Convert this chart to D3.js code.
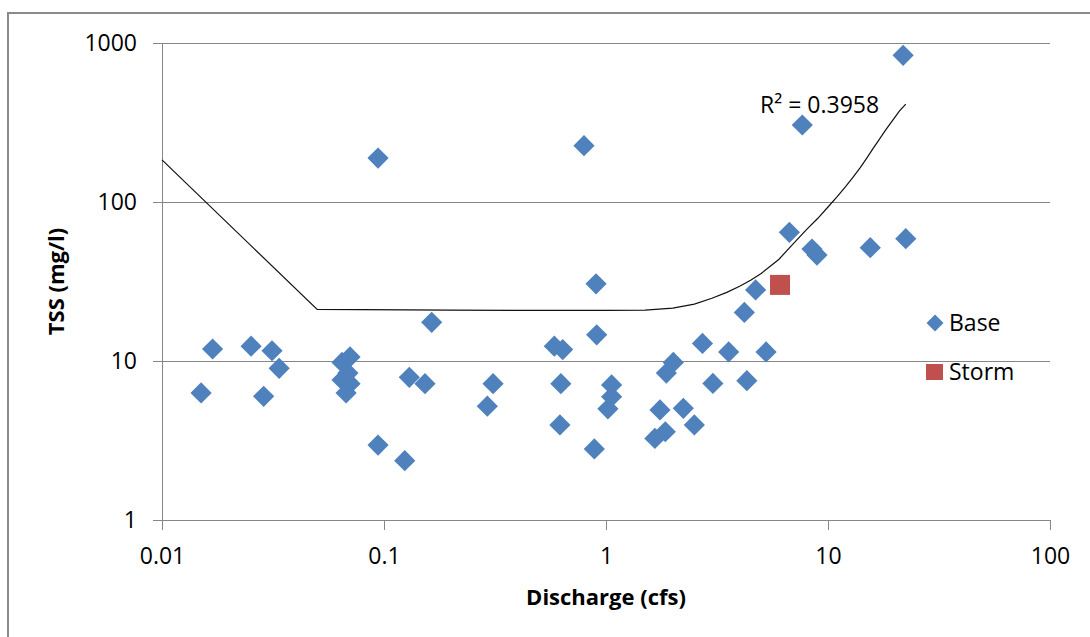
<!DOCTYPE html>
<html lang="en">
<head>
<meta charset="UTF-8">
<script src="https://d3js.org/d3.v7.min.js"></script>
<title>TSS vs Discharge</title>
<style>
  body { margin: 0; background: #fff; }
  text { font-family: "Open Sans", sans-serif; fill: #000; }
  .grid line { stroke: #868686; stroke-width: 1; shape-rendering: crispEdges; }
  .grid path { display: none; }
  .axis path, .axis line { stroke: #868686; stroke-width: 1; fill: none; shape-rendering: crispEdges; }
  .axis text { font-size: 23px; }
  .title { font-size: 22px; font-weight: bold; }
</style>
</head>
<body>
<script>
// Base samples: discharge (cfs) and TSS (mg/l)
var baseQ = [0.0150, 0.0169, 0.0252, 0.0313, 0.0337, 0.0287,
             0.0647, 0.0703, 0.0688, 0.0647, 0.0703, 0.0675,
             0.094, 0.094, 0.124, 0.130, 0.153, 0.164,
             0.292, 0.310, 0.585, 0.638, 0.626, 0.620, 0.796, 0.902, 0.908, 0.886,
             1.06, 1.06, 1.02,
             2.01, 1.87, 1.75, 2.23, 1.66, 1.85, 2.50, 2.72, 3.57, 5.26, 3.03, 4.31, 4.20, 4.72,
             21.8, 7.66, 6.70, 8.47, 8.92, 15.5, 22.4]
var baseTSS = [6.3, 11.9, 12.4, 11.6, 9.0, 6.0,
               9.8, 10.6, 8.4, 7.6, 7.2, 6.3,
               189, 2.96, 2.36, 7.9, 7.2, 17.5,
               5.2, 7.2, 12.4, 11.8, 7.2, 3.96, 226, 30.6, 14.6, 2.8,
               7.07, 5.96, 5.0,
               9.8, 8.4, 4.92, 5.04, 3.26, 3.59, 3.96, 12.9, 11.4, 11.4, 7.23, 7.52, 20.2, 28.0,
               837, 305, 64.5, 50.6, 46.4, 51.6, 58.8]
var stormQ = [6.08]
var stormTSS = [30.1]

// trend line as drawn in the chart
var trendQ = [0.01, 0.05, 0.2, 0.5, 1, 1.5, 2, 2.5, 3, 3.5, 4, 4.5, 5, 6, 7, 8, 9, 10,
              11, 12, 13, 14, 15, 16, 17, 18, 19, 20, 21, 22.4]
var trendTSS = [184, 21.1, 20.9, 20.8, 20.8, 20.9, 21.5, 22.8, 24.8, 27, 29.5, 32.3, 35.5, 43.5, 55, 67, 79, 93,
                108, 125, 144, 165, 190, 218, 247, 278, 309, 341, 374, 413]
var r2Label = "R² = 0.3958"

var xTicks = [0.01, 0.1, 1, 10, 100]
var yTicks = [1, 10, 100, 1000]

var width = 1090, height = 637
var plot = { left: 162, right: 1050, top: 43, bottom: 520 }

var svg = d3.select("body").append("svg")
    .attr("width", width)
    .attr("height", height)

// chart area border (cut off at right and bottom)
svg.append("rect")
    .attr("x", 8).attr("y", 13)
    .attr("width", 1200).attr("height", 800)
    .attr("fill", "#fff")
    .attr("stroke", "#8a8a8a")
    .attr("stroke-width", 2)

var xScale = d3.scaleLog().domain([0.01, 100]).range([plot.left, plot.right])
var yScale = d3.scaleLog().domain([1, 1000]).range([plot.bottom, plot.top])

// horizontal gridlines
svg.append("g")
    .attr("class", "grid")
    .attr("transform", "translate(" + plot.left + ",0)")
    .call(d3.axisLeft(yScale).tickValues(yTicks.slice(1)).tickSize(-(plot.right - plot.left)).tickFormat(""))

var yAxis = d3.axisLeft(yScale)
    .tickValues(yTicks)
    .tickSizeInner(9).tickSizeOuter(0)
    .tickPadding(16)
    .tickFormat(function (d) { return String(d) })

svg.append("g")
    .attr("class", "axis")
    .attr("transform", "translate(" + plot.left + ",0)")
    .call(yAxis)

var xAxis = d3.axisBottom(xScale)
    .tickValues(xTicks)
    .tickSizeInner(10).tickSizeOuter(0)
    .tickPadding(18)
    .tickFormat(function (d) { return String(d) })

svg.append("g")
    .attr("class", "axis")
    .attr("transform", "translate(0," + plot.bottom + ")")
    .call(xAxis)

// points
var base = baseQ.map(function (q, i) { return [q, baseTSS[i]] })
var storm = stormQ.map(function (q, i) { return [q, stormTSS[i]] })

var diamond = d3.symbol().type(d3.symbolSquare).size(225)
svg.append("g").selectAll("path")
    .data(base)
    .enter()
    .append("path")
    .attr("d", diamond)
    .attr("fill", "#4F81BD")
    .attr("transform", function (d) {
        return "translate(" + xScale(d[0]) + "," + yScale(d[1]) + ") rotate(45)"
    })

svg.append("g").selectAll("rect")
    .data(storm)
    .enter()
    .append("rect")
    .attr("x", function (d) { return xScale(d[0]) - 10 })
    .attr("y", function (d) { return yScale(d[1]) - 10 })
    .attr("width", 20).attr("height", 20)
    .attr("fill", "#C0504D")

// trend line
var trend = trendQ.map(function (q, i) { return [q, trendTSS[i]] })
svg.append("path")
    .datum(trend)
    .attr("fill", "none")
    .attr("stroke", "#111")
    .attr("stroke-width", 1.2)
    .attr("d", d3.line()
        .x(function (d) { return xScale(d[0]) })
        .y(function (d) { return yScale(d[1]) }))

svg.append("text")
    .attr("x", 760).attr("y", 113)
    .style("font-size", "23px")
    .text(r2Label)

// axis titles
svg.append("text")
    .attr("class", "title")
    .attr("x", (plot.left + plot.right) / 2)
    .attr("y", 605)
    .attr("text-anchor", "middle")
    .text("Discharge (cfs)")

svg.append("text")
    .attr("class", "title")
    .attr("transform", "translate(64," + (plot.top + plot.bottom) / 2 + ") rotate(-90)")
    .attr("text-anchor", "middle")
    .text("TSS (mg/l)")

// legend
var legend = svg.append("g")
legend.append("path")
    .attr("d", d3.symbol().type(d3.symbolSquare).size(144))
    .attr("fill", "#4F81BD")
    .attr("transform", "translate(935,323) rotate(45)")
legend.append("text")
    .attr("x", 949).attr("y", 331)
    .style("font-size", "23px")
    .text("Base")
legend.append("rect")
    .attr("x", 926).attr("y", 364)
    .attr("width", 17).attr("height", 16)
    .attr("fill", "#C0504D")
legend.append("text")
    .attr("x", 949).attr("y", 380)
    .style("font-size", "23px")
    .text("Storm")
</script>
</body>
</html>
